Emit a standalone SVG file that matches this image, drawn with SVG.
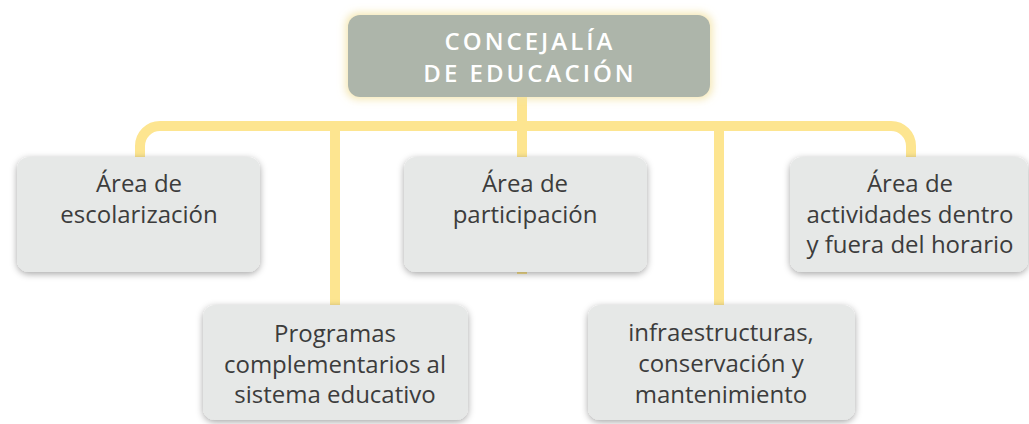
<svg xmlns="http://www.w3.org/2000/svg" width="1029" height="424" viewBox="0 0 1029 424">
<defs>
<filter id="glow" x="-10%" y="-30%" width="120%" height="160%">
<feMorphology in="SourceAlpha" operator="dilate" radius="2" result="d"/>
<feGaussianBlur in="d" stdDeviation="4" result="b"/>
<feFlood flood-color="#f3e3a6" flood-opacity="0.9"/>
<feComposite in2="b" operator="in" result="g"/>
<feMerge><feMergeNode in="g"/><feMergeNode in="SourceGraphic"/></feMerge>
</filter>
<filter id="shadow" x="-10%" y="-20%" width="120%" height="140%">
<feGaussianBlur in="SourceAlpha" stdDeviation="3.5" result="b"/>
<feOffset in="b" dx="0" dy="2" result="o"/>
<feFlood flood-color="#000" flood-opacity="0.35"/>
<feComposite in2="o" operator="in" result="s"/>
<feMerge><feMergeNode in="s"/><feMergeNode in="SourceGraphic"/></feMerge>
</filter>
</defs>
<style>
.con{fill:none;stroke:#fde590;stroke-width:10}
.box{fill:#e6e8e7;filter:url(#shadow)}
.t{font-family:"Open Sans","Noto Sans",sans-serif;font-size:24px;fill:#3c3c3c;text-anchor:middle}
.h{font-family:"Open Sans","Noto Sans",sans-serif;font-size:24px;font-weight:600;fill:#ffffff;text-anchor:middle;letter-spacing:3px}
</style>
<g id="connectors">
<path class="con" d="M140,160 V146 A20,20 0 0 1 160,126 H891 A20,20 0 0 1 911,146 V160"/>
<path class="con" d="M522,95 V274"/>
<path class="con" d="M335,126 V307"/>
<path class="con" d="M719,126 V307"/>
</g>
<g id="root">
<rect x="348" y="15" width="362" height="82" rx="12" fill="#adb5aa" filter="url(#glow)"/>
<text class="h" x="530" y="50">CONCEJALÍA</text>
<text class="h" x="530" y="82">DE EDUCACIÓN</text>
</g>
<g id="escolarizacion">
<rect class="box" x="17" y="157" width="243" height="115" rx="12"/>
<text class="t" x="139" y="192">Área de</text>
<text class="t" x="139" y="223">escolarización</text>
</g>
<g id="participacion">
<rect class="box" x="404" y="157" width="243" height="115" rx="12"/>
<text class="t" x="525" y="192">Área de</text>
<text class="t" x="525" y="223">participación</text>
</g>
<g id="actividades">
<rect class="box" x="790" y="157" width="238" height="115" rx="12"/>
<text class="t" x="910" y="192">Área de</text>
<text class="t" x="910" y="223">actividades dentro</text>
<text class="t" x="910" y="253">y fuera del horario</text>
</g>
<g id="programas">
<rect class="box" x="203" y="305" width="265" height="115" rx="12"/>
<text class="t" x="335" y="342">Programas</text>
<text class="t" x="335" y="373">complementarios al</text>
<text class="t" x="335" y="403">sistema educativo</text>
</g>
<g id="infraestructuras">
<rect class="box" x="588" y="305" width="267" height="115" rx="12"/>
<text class="t" x="721" y="341">infraestructuras,</text>
<text class="t" x="721" y="372">conservación y</text>
<text class="t" x="721" y="403">mantenimiento</text>
</g>
</svg>
